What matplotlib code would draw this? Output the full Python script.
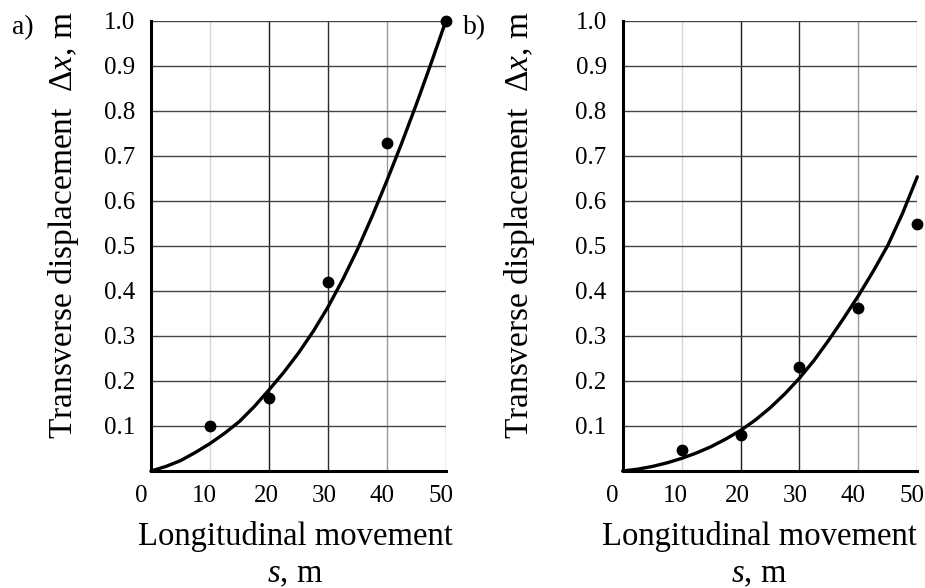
import matplotlib
matplotlib.use("Agg")
import matplotlib.pyplot as plt
import matplotlib.transforms as mtransforms

plt.rcParams['font.family'] = ['Liberation Serif', 'DejaVu Serif']
plt.rcParams['mathtext.fontset'] = 'custom'
plt.rcParams['mathtext.rm'] = 'Liberation Serif'
plt.rcParams['mathtext.it'] = 'Liberation Serif:italic'

# ---- data ----
x_ticks = [0, 10, 20, 30, 40, 50]
y_ticks = [0.1, 0.2, 0.3, 0.4, 0.5, 0.6, 0.7, 0.8, 0.9, 1.0]
y_tick_labels = ["0.1", "0.2", "0.3", "0.4", "0.5", "0.6", "0.7", "0.8", "0.9", "1.0"]

pts_s = [10, 20, 30, 40, 50]
pts_a = [0.10, 0.163, 0.419, 0.727, 1.0]
pts_b = [0.047, 0.081, 0.231, 0.361, 0.549]

curve_s = [0, 2.5, 5, 7.5, 10, 12.5, 15, 17.5, 20, 22.5, 25,
           27.5, 30, 32.5, 35, 37.5, 40, 42.5, 45, 47.5, 50]
curve_a_y = [0, 0.010, 0.023, 0.041, 0.061, 0.084, 0.110, 0.143, 0.180, 0.219, 0.262,
             0.310, 0.364, 0.425, 0.492, 0.566, 0.645, 0.728, 0.815, 0.906, 1.0]
curve_b_y = [0, 0.004, 0.010, 0.018, 0.028, 0.040, 0.054, 0.071, 0.090, 0.113, 0.140,
             0.171, 0.206, 0.246, 0.291, 0.339, 0.389, 0.443, 0.501, 0.572, 0.653]

panel_labels = ["a)", "b)"]
x_label = "Longitudinal movement\n$s$, m"
y_label = "Transverse displacement  \u0394$x$, m"

W, H = 925, 588
fig = plt.figure(figsize=(W / 100, H / 100), dpi=100)

axes_px = [(151, 446), (622.7, 917.3)]
top_px, bot_px = 20.5, 471
ylabel_x = [-0.237, -0.291]
xlabel_x = [0.488, 0.463]
panel_x = [12, 463]

vcolors = {10: '#d6d6d6', 20: '#1a1a1a', 30: '#2a2a2a', 40: '#9a9a9a', 50: '#a8a8a8'}

for i, (l, r) in enumerate(axes_px):
    ax = fig.add_axes([l / W, 1 - bot_px / H, (r - l) / W, (bot_px - top_px) / H])
    curve_y = curve_a_y if i == 0 else curve_b_y
    pts = pts_a if i == 0 else pts_b

    for xv in x_ticks[1:]:
        ax.axvline(xv, color=vcolors[xv], lw=1.0, zorder=1)
    for yv in y_ticks:
        ax.axhline(yv, color='#444444', lw=1.0, zorder=1)

    ax.plot(curve_s, curve_y, color='black', lw=2.4, zorder=3,
            solid_joinstyle='round', solid_capstyle='round', clip_on=False)
    ax.plot(pts_s, pts, 'o', color='black', ms=7.5, zorder=4, clip_on=False)

    ax.set_xlim(0, 50)
    ax.set_ylim(0, 1.0)
    ax.set_xticks(x_ticks)
    ax.set_yticks(y_ticks)
    ax.set_yticklabels(y_tick_labels)
    ax.tick_params(axis='both', length=0, labelsize=18)
    ax.tick_params(axis='y', pad=11.5)
    ax.tick_params(axis='x', pad=10)
    for sp in ['top', 'right']:
        ax.spines[sp].set_visible(False)
    for sp in ['left', 'bottom']:
        ax.spines[sp].set_linewidth(2.2)
        ax.spines[sp].set_zorder(5)

    shifts = [-10, -6, -3, -4, -5, -5]
    for lab, sh in zip(ax.get_xticklabels(), shifts):
        lab.set_transform(lab.get_transform() +
                          mtransforms.ScaledTranslation(sh / 100, 0, fig.dpi_scale_trans))

    ax.set_xlabel(x_label, fontsize=23.5, linespacing=1.3)
    ax.xaxis.set_label_coords(xlabel_x[i], -0.11)
    ax.set_ylabel(y_label, fontsize=24)
    ax.yaxis.set_label_coords(ylabel_x[i], 0.545)

    fig.text(panel_x[i] / W, 1 - 28 / H, panel_labels[i],
             fontsize=20, ha='left', va='center')

fig.savefig("out.png", dpi=100)
